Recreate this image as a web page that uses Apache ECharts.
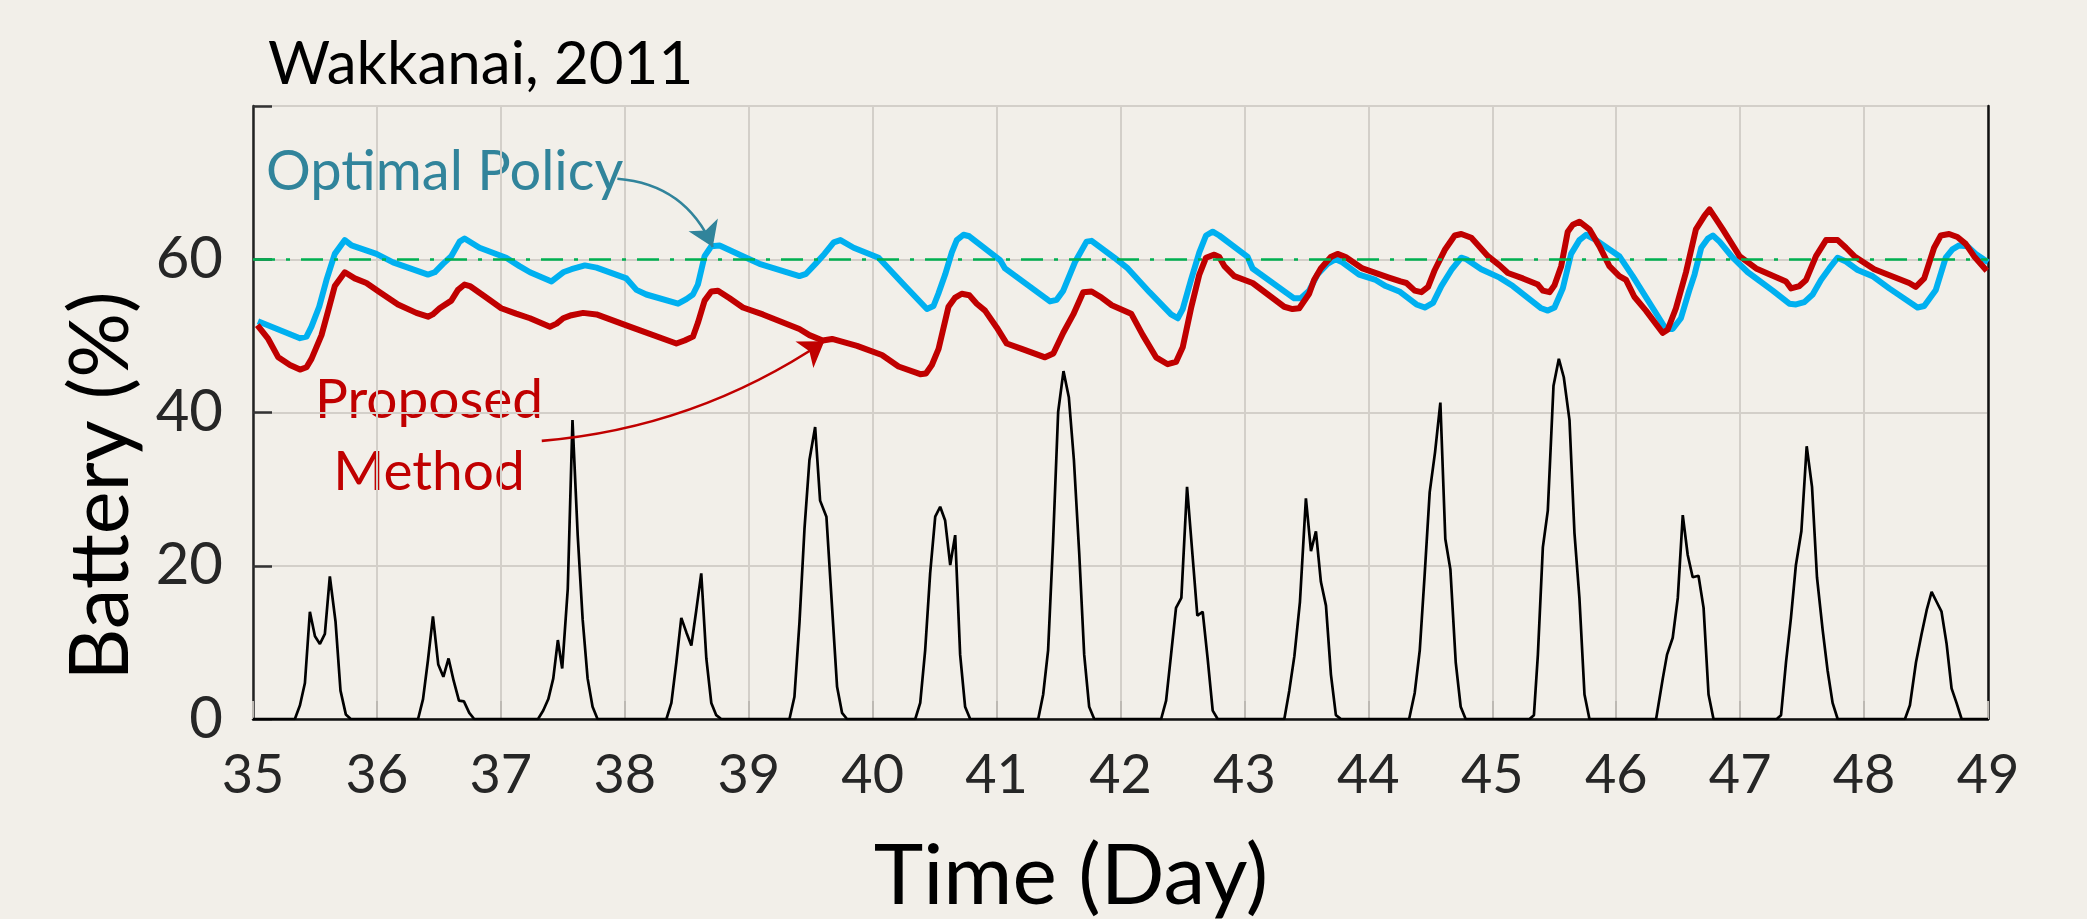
<!DOCTYPE html>
<html>
<head>
<meta charset="utf-8">
<script src="https://cdn.jsdelivr.net/npm/echarts@6/dist/echarts.min.js"></script>
<style>
  html, body { margin: 0; padding: 0; background: #f2efe9; }
  #chart { width: 2087px; height: 919px; }
</style>
</head>
<body>
<div id="chart"></div>
<script>
// day ticks and battery ticks
const dayTicks = [35, 36, 37, 38, 39, 40, 41, 42, 43, 44, 45, 46, 47, 48, 49]
const batteryTicks = [0, 20, 40, 60, 80]
const targetLevel = 60

// [day, %]
const solar = [
  [35, 0], [35.338, 0], [35.379, 1.8], [35.419, 4.7], [35.459, 14.0], [35.5, 10.8], [35.54, 9.8], [35.58, 11.1], [35.62, 18.6], [35.666, 12.7], [35.706, 3.7], [35.749, 0.6], [35.789, 0],
  [36.332, 0], [36.372, 2.6], [36.412, 7.7], [36.452, 13.4], [36.495, 7.1], [36.536, 5.5], [36.578, 7.9], [36.619, 5.0], [36.662, 2.4], [36.702, 2.3], [36.745, 0.8], [36.785, 0],
  [37.3, 0], [37.342, 1.1], [37.383, 2.6], [37.423, 5.3], [37.46, 10.3], [37.495, 6.6], [37.54, 17], [37.578, 39.0], [37.62, 24], [37.66, 13], [37.7, 5.3], [37.74, 1.6], [37.78, 0],
  [38.336, 0], [38.376, 2.1], [38.416, 7.4], [38.456, 13.2], [38.497, 11.3], [38.537, 9.6], [38.577, 14.2], [38.617, 19.0], [38.658, 7.9], [38.698, 2.1], [38.738, 0.5], [38.778, 0],
  [39.329, 0], [39.369, 2.9], [39.41, 12.7], [39.45, 24.8], [39.49, 33.8], [39.536, 38.1], [39.576, 28.5], [39.627, 26.4], [39.686, 11.1], [39.713, 4.2], [39.753, 0.8], [39.793, 0],
  [40.344, 0], [40.384, 2.1], [40.424, 9.0], [40.464, 19.0], [40.505, 26.4], [40.545, 27.7], [40.585, 25.9], [40.626, 20.1], [40.666, 24.0], [40.706, 8.4], [40.746, 1.6], [40.787, 0],
  [41.336, 0], [41.376, 3.2], [41.416, 9.0], [41.456, 23.2], [41.497, 40.1], [41.54, 45.4], [41.583, 42.0], [41.624, 33.8], [41.667, 21.6], [41.707, 8.4], [41.747, 1.6], [41.788, 0],
  [42.328, 0], [42.368, 2.4], [42.408, 8.4], [42.448, 14.5], [42.491, 15.8], [42.537, 30.3], [42.58, 21.6], [42.62, 13.5], [42.663, 14.0], [42.703, 7.9], [42.744, 1.1], [42.784, 0],
  [43.322, 0], [43.362, 3.7], [43.403, 8.2], [43.448, 15.3], [43.496, 28.8], [43.537, 21.9], [43.577, 24.5], [43.617, 17.9], [43.658, 14.8], [43.698, 5.8], [43.738, 0.5], [43.779, 0],
  [44.329, 0], [44.374, 3.4], [44.415, 9.0], [44.455, 19.0], [44.495, 29.6], [44.538, 34.8], [44.581, 41.3], [44.621, 23.5], [44.662, 19.5], [44.705, 7.4], [44.745, 1.6], [44.785, 0],
  [45.3, 0], [45.336, 0.5], [45.368, 8.4], [45.408, 22.4], [45.448, 27.2], [45.494, 43.5], [45.537, 47.0], [45.577, 44.6], [45.623, 39.0], [45.663, 24.3], [45.703, 15.8], [45.744, 3.2], [45.784, 0],
  [46.322, 0], [46.376, 5.3], [46.41, 8.4], [46.456, 10.6], [46.497, 15.8], [46.537, 26.6], [46.577, 21.4], [46.617, 18.5], [46.664, 18.7], [46.705, 14.5], [46.745, 3.2], [46.785, 0],
  [47.295, 0], [47.33, 0.5], [47.37, 7.4], [47.41, 13.2], [47.45, 20.1], [47.494, 24.5], [47.537, 35.6], [47.58, 30.3], [47.62, 18.5], [47.666, 11.6], [47.706, 6.3], [47.746, 2.1], [47.787, 0],
  [48.33, 0], [48.37, 1.8], [48.419, 7.4], [48.464, 11.1], [48.505, 14.2], [48.545, 16.6], [48.585, 15.3], [48.625, 14.0], [48.666, 9.8], [48.706, 4.0], [48.746, 2.1], [48.787, 0], [49, 0]
]

const optimalPolicy = [
  [35.04, 51.9], [35.379, 49.7], [35.432, 49.9], [35.472, 51.2], [35.534, 53.8], [35.593, 57.3], [35.66, 60.7], [35.741, 62.5], [35.795, 61.8], [35.996, 60.7], [36.13, 59.6],
  [36.412, 58.0], [36.466, 58.3], [36.533, 59.4], [36.6, 60.4], [36.667, 62.3], [36.707, 62.7], [36.828, 61.5], [37.043, 60.2], [37.15, 59.1], [37.235, 58.3],
  [37.409, 57.1], [37.503, 58.3], [37.57, 58.7], [37.678, 59.2], [37.772, 58.9], [38.013, 57.5], [38.094, 56.0], [38.174, 55.4], [38.43, 54.2], [38.497, 54.8],
  [38.55, 55.4], [38.59, 56.7], [38.644, 60.4], [38.698, 61.7], [38.765, 61.8], [38.953, 60.4], [39.087, 59.4], [39.409, 57.8], [39.463, 58.1], [39.544, 59.5],
  [39.611, 60.7], [39.686, 62.2], [39.74, 62.5], [39.847, 61.5], [40.048, 60.2], [40.25, 56.7], [40.438, 53.5], [40.491, 53.9], [40.53, 55.5], [40.585, 58.0],
  [40.639, 60.9], [40.679, 62.5], [40.733, 63.2], [40.78, 63.0], [41.028, 59.9], [41.068, 58.8], [41.431, 54.5], [41.485, 54.7], [41.538, 55.9], [41.632, 59.6],
  [41.726, 62.3], [41.767, 62.4], [41.95, 60.2], [42.059, 58.8], [42.234, 55.7], [42.408, 52.8], [42.462, 52.3], [42.502, 53.5], [42.569, 57.3], [42.636, 60.9],
  [42.69, 63.1], [42.744, 63.6], [42.797, 63.1], [43.026, 60.3], [43.066, 58.8], [43.401, 54.9], [43.455, 54.9], [43.522, 55.9], [43.589, 58.0], [43.67, 59.4],
  [43.737, 60.0], [43.79, 59.6], [43.925, 58.0], [44.059, 57.3], [44.14, 56.5], [44.25, 55.8], [44.388, 54.1], [44.455, 53.7], [44.522, 54.3], [44.589, 56.5],
  [44.67, 58.6], [44.75, 60.2], [44.791, 60.0], [44.911, 58.7], [45.059, 57.6], [45.166, 56.5], [45.395, 53.6], [45.448, 53.3], [45.502, 53.7], [45.569, 56.2],
  [45.636, 60.7], [45.703, 62.5], [45.757, 63.2], [45.838, 62.5], [46.025, 60.4], [46.133, 57.8], [46.401, 50.9], [46.455, 50.9], [46.522, 52.3], [46.589, 55.9],
  [46.632, 58.0], [46.686, 61.5], [46.74, 62.7], [46.78, 63.1], [46.834, 62.3], [46.941, 60.2], [47.062, 58.3], [47.263, 55.9], [47.397, 54.2], [47.451, 54.1],
  [47.518, 54.4], [47.585, 55.4], [47.652, 57.3], [47.719, 58.8], [47.787, 60.2], [47.854, 59.7], [47.948, 58.6], [48.068, 57.8], [48.203, 56.2], [48.431, 53.7],
  [48.485, 53.9], [48.579, 56.0], [48.659, 60.2], [48.713, 61.3], [48.767, 61.8], [48.834, 61.7], [48.901, 60.7], [49.0, 59.6]
]

const proposedMethod = [
  [35.035, 51.4], [35.123, 49.6], [35.204, 47.2], [35.298, 46.2], [35.379, 45.6], [35.432, 45.9], [35.472, 47.0], [35.553, 50.1], [35.607, 53.3], [35.66, 56.5],
  [35.741, 58.3], [35.821, 57.5], [35.915, 56.9], [36.023, 55.7], [36.17, 54.1], [36.318, 53.0], [36.412, 52.5], [36.45, 52.8], [36.506, 53.6], [36.6, 54.6],
  [36.654, 56.0], [36.707, 56.7], [36.75, 56.5], [36.882, 55.0], [37.003, 53.6], [37.123, 52.9], [37.235, 52.3], [37.396, 51.2], [37.45, 51.6], [37.503, 52.3],
  [37.57, 52.7], [37.664, 53.0], [37.772, 52.8], [38.04, 51.2], [38.416, 49.0], [38.483, 49.4], [38.55, 49.9], [38.59, 51.7], [38.644, 54.6], [38.698, 55.8],
  [38.752, 55.9], [38.846, 54.9], [38.953, 53.7], [39.114, 52.8], [39.409, 50.9], [39.49, 50.1], [39.597, 49.4], [39.673, 49.6], [39.874, 48.7], [40.075, 47.5],
  [40.209, 46.0], [40.384, 45.0], [40.43, 45.1], [40.478, 46.2], [40.532, 48.3], [40.612, 53.8], [40.666, 55.0], [40.719, 55.5], [40.78, 55.3], [40.84, 54.2],
  [40.907, 53.3], [41.001, 51.1], [41.082, 49.0], [41.203, 48.3], [41.391, 47.2], [41.458, 47.7], [41.538, 50.4], [41.619, 52.8], [41.699, 55.7], [41.767, 55.8],
  [41.847, 55.0], [41.93, 54.0], [42.086, 52.9], [42.18, 50.1], [42.287, 47.2], [42.381, 46.3], [42.448, 46.6], [42.502, 48.5], [42.569, 53.6], [42.636, 58.0],
  [42.69, 60.2], [42.757, 60.6], [42.797, 60.3], [42.838, 59.1], [42.918, 57.8], [43.066, 56.9], [43.321, 53.8], [43.388, 53.5], [43.442, 53.6], [43.522, 55.5],
  [43.562, 57.3], [43.616, 58.8], [43.697, 60.3], [43.751, 60.7], [43.817, 60.3], [43.952, 58.8], [44.166, 57.6], [44.26, 57.1], [44.307, 56.9], [44.374, 55.9],
  [44.428, 55.7], [44.482, 56.4], [44.536, 58.6], [44.616, 61.2], [44.697, 63.1], [44.75, 63.3], [44.831, 62.8], [44.898, 61.6], [44.965, 60.4], [45.059, 59.2],
  [45.126, 58.2], [45.247, 57.5], [45.368, 56.7], [45.408, 55.9], [45.462, 55.7], [45.502, 56.6], [45.556, 59.1], [45.609, 63.6], [45.65, 64.5], [45.703, 64.9],
  [45.784, 63.9], [45.864, 61.7], [45.945, 59.1], [46.025, 57.8], [46.079, 57.3], [46.146, 55.1], [46.24, 53.3], [46.374, 50.4], [46.415, 50.8], [46.482, 53.6],
  [46.563, 58.3], [46.643, 63.9], [46.713, 65.7], [46.753, 66.5], [46.807, 65.2], [46.86, 63.9], [46.995, 60.4], [47.129, 58.8], [47.37, 57.1], [47.411, 56.2],
  [47.478, 56.5], [47.532, 57.3], [47.612, 60.4], [47.693, 62.5], [47.787, 62.5], [47.854, 61.5], [47.921, 60.4], [48.082, 58.7], [48.364, 56.9], [48.417, 56.4],
  [48.485, 57.5], [48.565, 61.5], [48.619, 63.1], [48.686, 63.3], [48.753, 62.9], [48.82, 62.0], [48.887, 60.4], [48.99, 58.5]
]

// annotation arrows, [day, %] from -> to
const optimalArrow = [[37.94, 70.5], [38.71, 61.6]]
const proposedArrow = [[37.33, 36.3], [39.61, 49.3]]

const FONT = 'Lato, "Open Sans", sans-serif'
const GRID_COLOR = '#d3cfc9'

const chart = echarts.init(document.getElementById('chart'))

function arrowSeries(coords, color, curveness) {
  return {
    type: 'lines',
    coordinateSystem: 'cartesian2d',
    silent: true,
    z: 5,
    symbol: ['none', 'arrow'],
    symbolSize: 24,
    lineStyle: { color, width: 2.6, curveness, opacity: 1 },
    data: [{ coords }],
  }
}

const option = {
  backgroundColor: '#f2efe9',
  animation: false,
  grid: { left: 253, right: 99, top: 106, bottom: 200 },
  xAxis: [
    {
      type: 'value',
      min: dayTicks[0],
      max: dayTicks[dayTicks.length - 1],
      interval: 1,
      axisLine: { lineStyle: { color: '#bdb9b3', width: 2 } },
      axisTick: { inside: true, length: 18, lineStyle: { color: '#bdb9b3', width: 2 } },
      axisLabel: { fontSize: 54, color: '#262626', fontFamily: FONT, margin: 30 },
      splitLine: { show: true, lineStyle: { color: GRID_COLOR, width: 2 } },
    },
    {
      type: 'value',
      position: 'top',
      min: dayTicks[0],
      max: dayTicks[dayTicks.length - 1],
      axisLine: { lineStyle: { color: '#111', width: 2.5 } },
      axisTick: { show: false },
      axisLabel: { show: false },
      splitLine: { show: false },
    },
  ],
  yAxis: [
    {
      type: 'value',
      min: batteryTicks[0],
      max: batteryTicks[batteryTicks.length - 1],
      interval: 20,
      axisLine: { show: true, lineStyle: { color: '#222', width: 2.5 } },
      axisTick: { show: true, inside: true, length: 19, lineStyle: { color: '#333', width: 2.5 } },
      axisLabel: {
        fontSize: 58,
        color: '#262626',
        fontFamily: FONT,
        margin: 30,
        formatter: (v) => (v === 80 ? '' : String(v)),
      },
      splitLine: { lineStyle: { color: GRID_COLOR, width: 2 } },
    },
    {
      type: 'value',
      position: 'right',
      min: 0,
      max: 80,
      axisLine: { show: true, lineStyle: { color: '#111', width: 2.5 } },
      axisTick: { show: false },
      axisLabel: { show: false },
      splitLine: { show: false },
    },
  ],
  series: [
    {
      name: 'Solar',
      type: 'line',
      data: solar,
      symbol: 'none',
      lineStyle: { color: '#000', width: 2.7 },
      markLine: {
        silent: true,
        symbol: 'none',
        label: { show: false },
        lineStyle: { color: '#00b050', width: 2.6, type: [22, 11, 4, 11] },
        data: [{ yAxis: targetLevel }],
      },
    },
    {
      name: 'Optimal Policy',
      type: 'line',
      data: optimalPolicy,
      symbol: 'none',
      lineStyle: { color: '#00b0f0', width: 6, join: 'round' },
    },
    {
      name: 'Proposed Method',
      type: 'line',
      data: proposedMethod,
      symbol: 'none',
      lineStyle: { color: '#c00000', width: 6, join: 'round' },
    },
    arrowSeries(optimalArrow, '#31849b', 0.3),
    arrowSeries(proposedArrow, '#c00000', -0.13),
  ],
  graphic: [
    {
      type: 'text', x: 268, y: 65,
      style: { text: 'Wakkanai, 2011', font: `60px ${FONT}`, fill: '#000', align: 'left', verticalAlign: 'middle' },
    },
    {
      type: 'text', x: 266, y: 172,
      style: { text: 'Optimal Policy', font: `56px ${FONT}`, fill: '#31849b', align: 'left', verticalAlign: 'middle' },
    },
    {
      type: 'text', x: 429, y: 400,
      style: { text: 'Proposed', font: `55px ${FONT}`, fill: '#c00000', align: 'center', verticalAlign: 'middle' },
    },
    {
      type: 'text', x: 429, y: 472,
      style: { text: 'Method', font: `55px ${FONT}`, fill: '#c00000', align: 'center', verticalAlign: 'middle' },
    },
    {
      type: 'text', x: 1071, y: 877,
      style: { text: 'Time (Day)', font: `84px ${FONT}`, fill: '#000', align: 'center', verticalAlign: 'middle' },
    },
    {
      type: 'text', x: 102, y: 486, rotation: Math.PI / 2,
      style: { text: 'Battery (%)', font: `81px ${FONT}`, fill: '#000', align: 'center', verticalAlign: 'middle' },
    },
  ],
}

chart.setOption(option)
</script>
</body>
</html>
